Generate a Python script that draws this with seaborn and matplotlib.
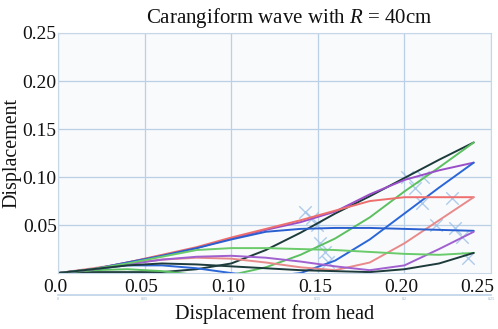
import numpy as np
import pandas as pd
import seaborn as sns
import matplotlib.pyplot as plt
from matplotlib.transforms import ScaledTranslation

# body positions along the fish (m)
xs = [0, .02, .04, .06, .08, .10, .12, .14, .16, .18, .20, .22, .24]

# snapshots of the wave
black_upper = [0, .001, .001, .001, .004, .010, .024, .042, .062, .080, .099, .118, .136]
green_steep = [0, .003, .004, .002, -.002, -.002, .006, .019, .036, .058, .085, .110, .136]
purple_upper = [0, .004, .011, .018, .026, .036, .045, .053, .064, .082, .097, .107, .115]
blue_steep = [0, .004, .008, .008, .005, .000, -.004, .000, .013, .035, .062, .089, .115]
red_flat = [0, .004, .011, .019, .027, .037, .046, .055, .065, .075, .079, .079, .079]
pink_steep = [0, .005, .010, .014, .016, .015, .011, .006, .003, .011, .031, .055, .079]
blue_flat = [0, .004, .011, .018, .026, .035, .043, .046, .047, .047, .046, .045, .044]
purple_steep = [0, .004, .009, .014, .017, .018, .016, .012, .007, .003, .008, .025, .043]
green_flat = [0, .004, .010, .017, .024, .026, .026, .025, .024, .022, .020, .019, .021]
black_smile = [0, .004, .008, .010, .009, .007, .005, .003, .002, .001, .004, .010, .021]

# joint markers
joint_x = [.2015, .2107, .2061, .2275, .2292, .2333, .2367, .1426, .1467, .1495, .1513, .1542, .1559, .210, .218]
joint_y = [.100, .100, .0885, .078, .047, .0375, .0156, .0635, .057, .050, .031, .022, .0115, .073, .050]

xtick_vals = [0, .05, .10, .15, .20, .25]
xtick_labels = ["0.0", "0.05", "0.10", "0.15", "0.20", "0.25"]
ytick_vals = [.05, .10, .15, .20, .25]
ytick_labels = ["0.05", "0.10", "0.15", "0.20", "0.25"]

curves = {
    "black_upper": (black_upper, "#1d3b3b"),
    "green_steep": (green_steep, "#5cc060"),
    "purple_upper": (purple_upper, "#9a4fc8"),
    "blue_steep": (blue_steep, "#2a66d8"),
    "red_flat": (red_flat, "#ee6e6e"),
    "pink_steep": (pink_steep, "#e88a8a"),
    "blue_flat": (blue_flat, "#2a5fd0"),
    "purple_steep": (purple_steep, "#a060d0"),
    "green_flat": (green_flat, "#6acb6a"),
    "black_smile": (black_smile, "#1d3b3b"),
}

df = pd.concat([pd.DataFrame({"x": xs, "y": ys, "curve": name})
                for name, (ys, _) in curves.items()], ignore_index=True)
palette = {name: c for name, (_, c) in curves.items()}

sns.set_theme(style="whitegrid")
plt.rcParams["font.family"] = ["Liberation Serif", "DejaVu Serif"]
plt.rcParams["mathtext.fontset"] = "custom"
plt.rcParams["mathtext.it"] = "Liberation Serif:italic"
plt.rcParams["mathtext.rm"] = "Liberation Serif"

fig = plt.figure(figsize=(4.98, 3.29), dpi=100)
ax = fig.add_axes([0.1165, 0.170, 0.8695, 0.7297])
ax.set_facecolor("#f9fafc")

sns.lineplot(data=df, x="x", y="y", hue="curve", palette=palette, sort=False,
             estimator=None, linewidth=1.4, legend=False, ax=ax)
sns.scatterplot(x=joint_x, y=joint_y, marker="x", s=80, color="#9cc0e6",
                linewidth=1.0, alpha=0.8, ax=ax, zorder=1)

ax.set_xlim(0, 0.25)
ax.set_ylim(0, 0.25)
ax.set_xticks(xtick_vals)
ax.set_xticklabels([])
ax.set_yticks(ytick_vals)
ax.set_yticklabels(ytick_labels)
ax.tick_params(axis="y", labelsize=14, colors="#111111", pad=1, length=0)
ax.tick_params(axis="x", length=0)

# x tick labels, set a little left of the ticks as in the original
shift = ScaledTranslation(-3 / 100, 0, fig.dpi_scale_trans)
xform = ax.get_xaxis_transform() + shift
for v, lab in zip(xtick_vals, xtick_labels):
    last = v == xtick_vals[-1]
    ax.text(v + (0.0035 if last else 0), -0.025, lab, transform=xform, fontsize=14,
            ha="right" if last else "center", va="top", color="#111111")

ax.grid(True, color="#b9d0e6", linewidth=0.9)
for s in ax.spines.values():
    s.set_color("#c7d7e8")
    s.set_linewidth(0.8)

# faint inner axis from the scanned original
sec = ax.secondary_xaxis(-0.092)
sec.set_xticks(xtick_vals)
sec.set_xticklabels(["0", "0.05", "0.1", "0.15", "0.2", "0.25"])
sec.tick_params(labelsize=3, colors="#8fb0d0", length=0, pad=1)
sec.spines["bottom"].set_color("#bcd2e8")
sec.spines["bottom"].set_linewidth(1.2)

ax.set_title(r"Carangiform wave with $R$ = 40cm", fontsize=15, pad=7, x=0.533,
             color="#111111")
ax.set_xlabel("Displacement from head", fontsize=14.6, labelpad=19, color="#111111")
ax.set_ylabel("Displacement", fontsize=14.4, labelpad=1, color="#111111")

fig.savefig("out.png", dpi=100)
